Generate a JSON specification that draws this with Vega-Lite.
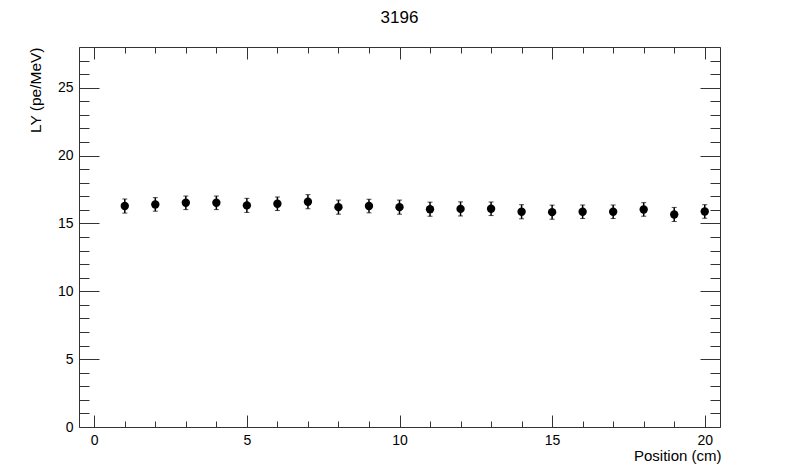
{
  "$schema": "https://vega.github.io/schema/vega-lite/v6.json",
  "autosize": "none",
  "width": 641,
  "height": 380,
  "padding": {"left": 79, "top": 47, "right": 80, "bottom": 48},
  "background": "white",
  "title": {
    "text": "3196",
    "font": "Liberation Sans",
    "fontSize": 17,
    "fontWeight": "normal",
    "color": "black",
    "anchor": "middle",
    "frame": "group",
    "offset": 20
  },
  "data": {
    "values": [
      {"pos": 1, "ly": 16.28, "err": 0.52},
      {"pos": 2, "ly": 16.40, "err": 0.50},
      {"pos": 3, "ly": 16.52, "err": 0.50},
      {"pos": 4, "ly": 16.52, "err": 0.50},
      {"pos": 5, "ly": 16.33, "err": 0.52},
      {"pos": 6, "ly": 16.45, "err": 0.50},
      {"pos": 7, "ly": 16.60, "err": 0.52},
      {"pos": 8, "ly": 16.20, "err": 0.52},
      {"pos": 9, "ly": 16.28, "err": 0.50},
      {"pos": 10, "ly": 16.20, "err": 0.52},
      {"pos": 11, "ly": 16.05, "err": 0.52},
      {"pos": 12, "ly": 16.07, "err": 0.52},
      {"pos": 13, "ly": 16.08, "err": 0.50},
      {"pos": 14, "ly": 15.86, "err": 0.52},
      {"pos": 15, "ly": 15.83, "err": 0.52},
      {"pos": 16, "ly": 15.86, "err": 0.50},
      {"pos": 17, "ly": 15.86, "err": 0.50},
      {"pos": 18, "ly": 16.03, "err": 0.50},
      {"pos": 19, "ly": 15.66, "err": 0.52},
      {"pos": 20, "ly": 15.88, "err": 0.50}
    ]
  },
  "layer": [
    {
      "mark": {"type": "errorbar", "ticks": {"size": 5, "color": "black", "strokeWidth": 1.5}, "rule": {"color": "black", "strokeWidth": 1.5}},
      "encoding": {
        "x": {
          "field": "pos",
          "type": "quantitative",
          "scale": {"domain": [-0.5, 20.5], "nice": false, "zero": false},
          "axis": {
            "orient": "bottom",
            "title": "Position (cm)",
            "values": [0, 1, 2, 3, 4, 5, 6, 7, 8, 9, 10, 11, 12, 13, 14, 15, 16, 17, 18, 19, 20],
            "labelExpr": "datum.value % 5 === 0 ? datum.label : ''",
            "tickSize": {"condition": {"test": "datum.value % 5 === 0", "value": -12}, "value": -6},
            "labelPadding": 18,
            "titleFontSize": 15,
            "titleX": 642,
            "titleY": 33,
            "titleAlign": "right",
            "titleBaseline": "alphabetic",
            "titleAnchor": null
          }
        },
        "y": {
          "field": "ly",
          "type": "quantitative",
          "scale": {"domain": [0, 28], "nice": false, "zero": false},
          "axis": {
            "orient": "left",
            "title": "LY (pe/MeV)",
            "values": [0, 1, 2, 3, 4, 5, 6, 7, 8, 9, 10, 11, 12, 13, 14, 15, 16, 17, 18, 19, 20, 21, 22, 23, 24, 25, 26, 27, 28],
            "labelExpr": "datum.value % 5 === 0 ? datum.label : ''",
            "tickSize": {"condition": {"test": "datum.value % 5 === 0", "value": -20}, "value": -10},
            "labelPadding": 26,
            "titleFontSize": 15.5,
            "titleAngle": -90,
            "titleX": -44,
            "titleY": 0,
            "titleAlign": "right",
            "titleBaseline": "middle",
            "titleAnchor": null
          }
        },
        "yError": {"field": "err"}
      }
    },
    {
      "mark": {"type": "point", "filled": true, "color": "black", "opacity": 1, "size": 70},
      "encoding": {
        "x": {
          "field": "pos",
          "type": "quantitative",
          "axis": {
            "orient": "top",
            "title": null,
            "values": [0, 1, 2, 3, 4, 5, 6, 7, 8, 9, 10, 11, 12, 13, 14, 15, 16, 17, 18, 19, 20],
            "labels": false,
            "tickSize": {"condition": {"test": "datum.value % 5 === 0", "value": -12}, "value": -6}
          }
        },
        "y": {
          "field": "ly",
          "type": "quantitative",
          "axis": {
            "orient": "right",
            "title": null,
            "values": [0, 1, 2, 3, 4, 5, 6, 7, 8, 9, 10, 11, 12, 13, 14, 15, 16, 17, 18, 19, 20, 21, 22, 23, 24, 25, 26, 27, 28],
            "labels": false,
            "tickSize": {"condition": {"test": "datum.value % 5 === 0", "value": -20}, "value": -10}
          }
        }
      }
    }
  ],
  "resolve": {"axis": {"x": "independent", "y": "independent"}},
  "config": {
    "view": {"stroke": "#333", "strokeWidth": 1},
    "axis": {
      "domain": false,
      "grid": false,
      "tickColor": "#333",
      "tickWidth": 1,
      "labelFont": "Liberation Sans",
      "labelFontSize": 14,
      "labelColor": "black",
      "titleFont": "Liberation Sans",
      "titleFontWeight": "normal",
      "titleColor": "black"
    }
  }
}
